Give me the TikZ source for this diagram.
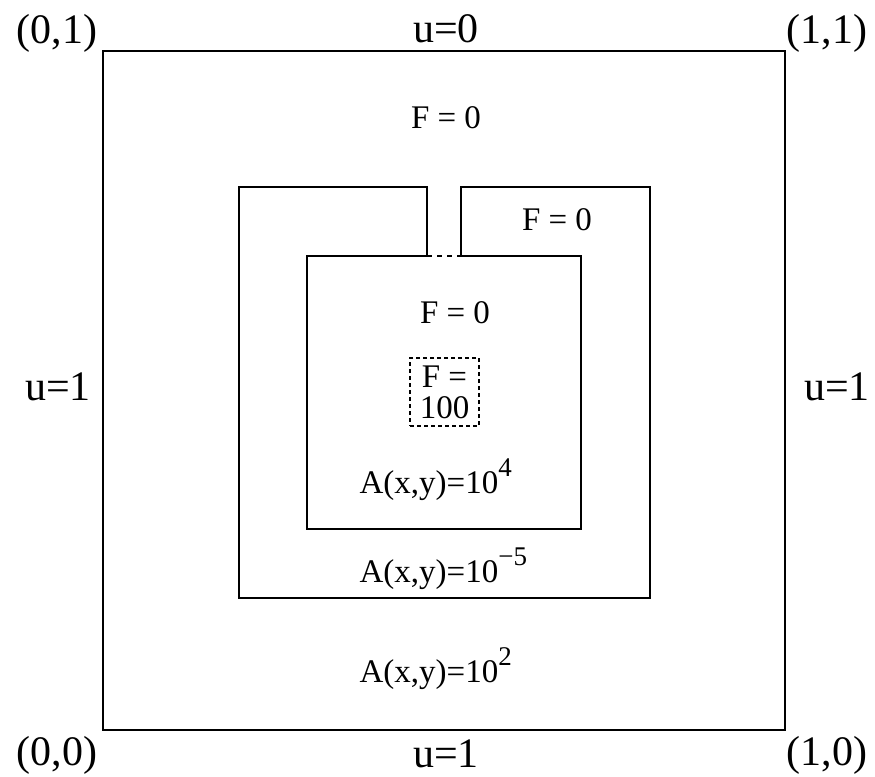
\documentclass[tikz,border=0pt]{standalone}
\usepackage{fontspec}
\setmainfont{Liberation Serif}
\usetikzlibrary{positioning}
\newcommand{\bordertxt}{\fontsize{42}{48}\selectfont}
\newcommand{\regiontxt}{\fontsize{33}{31}\selectfont}
\newcommand{\expo}[1]{\raisebox{0.5em}{\fontsize{27}{27}\selectfont #1}}
\tikzset{
  edge label/.style={anchor=base, inner sep=0pt, font=\bordertxt},
  region label/.style={anchor=base, inner sep=0pt, font=\regiontxt},
  coef label/.style={anchor=base west, inner sep=0pt, font=\regiontxt},
  source box/.style={draw, dash pattern=on 4pt off 3pt, line width=1.1pt,
    minimum width=69pt, minimum height=68pt, inner sep=0pt, align=center,
    font=\regiontxt},
}

\begin{document}
\begin{tikzpicture}[x=1pt, y=-1pt, line width=1.2pt]
  \useasboundingbox (0,0) rectangle (875,776);
  % outer unit square
  \coordinate (SW) at (103,730);
  \coordinate (NE) at (785,51);
  \draw (SW) rectangle (NE);
  % middle region with its slit
  \coordinate (GL) at (427,256);
  \coordinate (GR) at (461,256);
  \draw (GL) -- (427,187) -- (239,187) -- (239,598) -- (650,598) -- (650,187) -- (461,187) -- (GR);
  % inner square
  \draw (GL) -- (307,256) -- (307,529) -- (581,529) -- (581,256) -- (GR);
  \draw[dash pattern=on 5pt off 5pt] (GL) -- (GR);
  % corners and boundary values
  \node[edge label] (c01) at (57,44) {(0,1)};
  \node[edge label] (utop) at (446,43) {u=0};
  \node[edge label] (c11) at (827,44) {(1,1)};
  \node[edge label] (uleft) at (58,400) {u=1};
  \node[edge label] (uright) at (837,400) {u=1};
  \node[edge label] (c00) at (57,765) {(0,0)};
  \node[edge label] (ubot) at (446,767) {u=1};
  \node[edge label] (c10) at (827,765) {(1,0)};
  % sources
  \node[region label] (Fout) at (446,128) {F = 0};
  \node[region label] (Fmid) at (557,230) {F = 0};
  \node[region label] (Fin) at (455,323) {F = 0};
  \node[source box] (Fsrc) at (444.5,392) {F =\\100};
  % coefficients
  \node[coef label] (Ain) at (359,493) {A(x,y)=10\expo{4}};
  \node[coef label] (Amid) at (359,582) {A(x,y)=10\expo{−5}};
  \node[coef label] (Aout) at (359,682) {A(x,y)=10\expo{2}};
\end{tikzpicture}
\end{document}
